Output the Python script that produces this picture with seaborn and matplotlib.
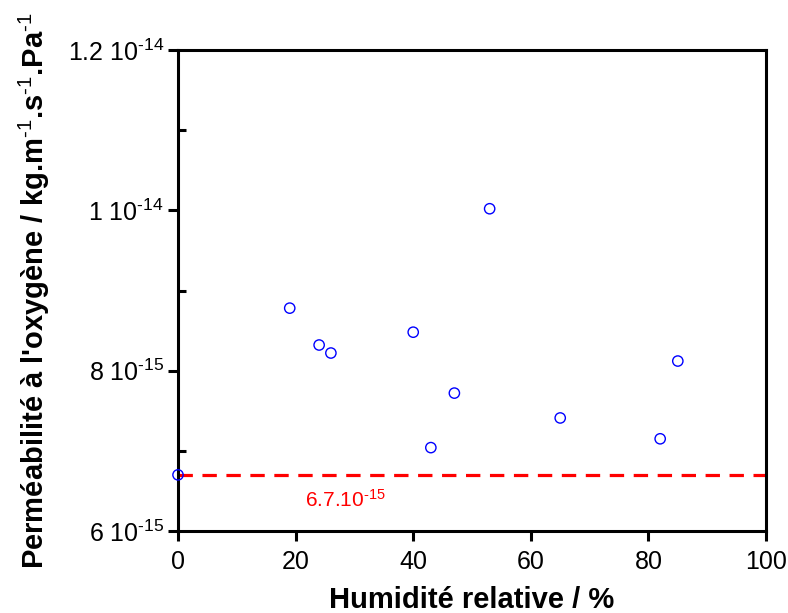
import matplotlib
matplotlib.use("Agg")
import matplotlib.pyplot as plt
import seaborn as sns
import pandas as pd
from matplotlib.ticker import FixedLocator, FixedFormatter, MultipleLocator

humidity = [0, 19, 24, 26, 40, 43, 47, 53, 65, 82, 85]
permeability = [6.70e-15, 8.78e-15, 8.32e-15, 8.22e-15, 8.48e-15, 7.04e-15,
                7.72e-15, 1.002e-14, 7.41e-15, 7.15e-15, 8.12e-15]
ref_value = 6.7e-15
ref_label = r"6.7.10$^{\text{-15}}$"
y_ticks = [6e-15, 8e-15, 1e-14, 1.2e-14]
y_ticklabels = [r"6 10$^{\text{-15}}$", r"8 10$^{\text{-15}}$",
                r"1 10$^{\text{-14}}$", r"1.2 10$^{\text{-14}}$"]
x_ticks = [0, 20, 40, 60, 80, 100]

sns.set_theme(style="white")
plt.rcParams['font.family'] = ['Liberation Sans', 'DejaVu Sans']
plt.rcParams['mathtext.default'] = 'regular'
plt.rcParams['mathtext.fontset'] = 'custom'
plt.rcParams['mathtext.rm'] = 'Liberation Sans'
plt.rcParams['mathtext.bf'] = 'Liberation Sans:bold'
plt.rcParams['text.color'] = 'black'
plt.rcParams['axes.labelcolor'] = 'black'
plt.rcParams['xtick.color'] = 'black'
plt.rcParams['ytick.color'] = 'black'

df = pd.DataFrame({"hr": humidity, "perm": permeability})

fig = plt.figure(figsize=(7.88, 6.13), dpi=100)
ax = fig.add_axes([0.2259, 0.1338, 0.9721 - 0.2259, 0.9184 - 0.1338])

ax.axhline(ref_value, color="#ff0000", lw=2.3, dashes=(4.5, 3), zorder=1)
sns.scatterplot(data=df, x="hr", y="perm", ax=ax, marker="o", s=55,
                facecolors="none", edgecolor="#0000ff", linewidth=1.0, zorder=3, clip_on=False)

ax.set_xlim(0, 100)
ax.set_ylim(6e-15, 1.2e-14)
ax.xaxis.set_major_locator(FixedLocator(x_ticks))
ax.yaxis.set_major_locator(FixedLocator(y_ticks))
ax.yaxis.set_major_formatter(FixedFormatter(y_ticklabels))
ax.yaxis.set_minor_locator(MultipleLocator(1e-15))

for s in ax.spines.values():
    s.set_linewidth(2.2)
    s.set_color("black")

ax.tick_params(axis="both", which="major", direction="out", length=7, width=2.2,
               labelsize=18, labelcolor="black", color="black")
ax.tick_params(axis="x", which="major", pad=7, bottom=True)
ax.tick_params(axis="y", which="major", pad=3, left=True)
ax.tick_params(axis="y", which="minor", direction="in", length=5.5, width=2.2, left=True,
               color="black")

ax.text(28.4, 6.39e-15, ref_label, color="#ff0000", fontsize=15, ha="center", va="center")

ax.set_xlabel("Humidité relative / %", fontsize=21, fontweight="bold", labelpad=8,
              color="black")
ax.set_ylabel(r"Perméabilité à l'oxygène / kg.m$^{\text{-1}}$.s$^{\text{-1}}$.Pa$^{\text{-1}}$",
              fontsize=21, fontweight="bold", labelpad=11, color="black")

fig.savefig("out.png", dpi=100)
